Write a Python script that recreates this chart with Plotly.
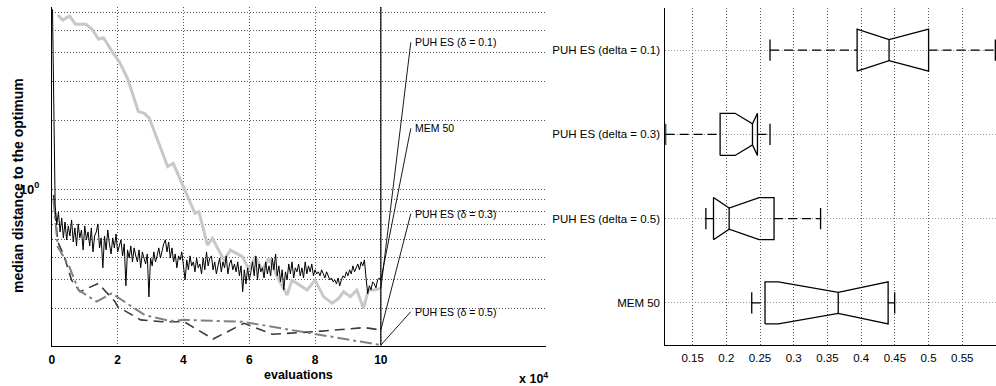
import numpy as np
import plotly.graph_objects as go

# ---------------- data: left panel (median distance to optimum vs evaluations, x 1e4) -------------
series_names = ["PUH ES (δ = 0.1)", "MEM 50", "PUH ES (δ = 0.3)", "PUH ES (δ = 0.5)"]

puh01_x = [0.18, 0.33, 0.54, 0.72, 1.04, 1.22, 1.42, 1.57, 1.85, 2.05, 2.30, 2.63, 2.81, 2.96,
           3.52, 3.69, 4.02, 4.35, 4.47, 4.73, 4.88, 5.23, 5.43, 5.79, 5.99, 6.19, 6.39, 6.60,
           6.90, 7.15, 7.30, 7.60, 7.76, 8.00, 8.26, 8.52, 8.72, 8.87, 9.07, 9.27, 9.47, 9.62,
           9.80, 10.0]
puh01_y = [5.86, 5.57, 5.80, 5.33, 5.33, 5.07, 4.58, 4.65, 4.00, 3.65, 3.08, 2.20, 2.16, 2.06,
           1.26, 1.30, 1.01, 0.784, 0.797, 0.568, 0.608, 0.488, 0.540, 0.505, 0.444, 0.505, 0.441,
           0.497, 0.398, 0.342, 0.398, 0.372, 0.360, 0.398, 0.336, 0.315, 0.331, 0.354, 0.336,
           0.360, 0.299, 0.360, 0.360, 0.366]

mem_y = [6.2,
         0.853, 0.697, 0.794, 0.649, 0.748, 0.611, 0.718, 0.599, 0.690, 0.623,
         0.733, 0.586, 0.676, 0.563, 0.704, 0.611, 0.662, 0.541, 0.690, 0.599,
         0.649, 0.563, 0.676, 0.530, 0.623, 0.649, 0.704, 0.552, 0.611, 0.451,
         0.623, 0.541, 0.662, 0.575, 0.519, 0.611, 0.552, 0.636, 0.530, 0.563,
         0.599, 0.509, 0.575, 0.376, 0.541, 0.498, 0.563, 0.479, 0.552, 0.509,
         0.479, 0.541, 0.451, 0.530, 0.498, 0.469, 0.519, 0.336, 0.498, 0.460,
         0.530, 0.479, 0.509, 0.552, 0.498, 0.541, 0.575, 0.599, 0.530, 0.586,
         0.498, 0.552, 0.479, 0.519, 0.451, 0.509, 0.489, 0.530, 0.460, 0.399,
         0.489, 0.442, 0.509, 0.460, 0.479, 0.433, 0.498, 0.451, 0.469, 0.424,
         0.498, 0.442, 0.530, 0.460, 0.498, 0.509, 0.442, 0.479, 0.424, 0.460,
         0.498, 0.433, 0.479, 0.451, 0.509, 0.424, 0.469, 0.489, 0.442, 0.469,
         0.433, 0.479, 0.416, 0.460, 0.354, 0.442, 0.383, 0.451, 0.399, 0.433,
         0.479, 0.416, 0.509, 0.399, 0.469, 0.433, 0.451, 0.407, 0.479, 0.424,
         0.460, 0.416, 0.498, 0.442, 0.519, 0.416, 0.460, 0.391, 0.442, 0.361,
         0.433, 0.399, 0.469, 0.424, 0.479, 0.407, 0.451, 0.433, 0.469, 0.416,
         0.451, 0.407, 0.479, 0.424, 0.460, 0.433, 0.469, 0.416, 0.442, 0.424,
         0.433, 0.416, 0.442, 0.424, 0.407, 0.433, 0.416, 0.399, 0.407, 0.391,
         0.399, 0.383, 0.407, 0.376, 0.399, 0.416, 0.407, 0.433, 0.416, 0.442,
         0.424, 0.460, 0.433, 0.451, 0.469, 0.442, 0.479, 0.460, 0.489, 0.407,
         0.347, 0.376, 0.361, 0.391, 0.383, 0.368, 0.399, 0.407,
         0.399]
mem_x = [0.02] + list(np.linspace(0.10, 10.0, len(mem_y) - 1))

puh03_x = [0.05, 0.18, 0.38, 0.60, 0.86, 1.41, 1.92, 2.00, 2.70, 3.36, 4.02, 4.90, 5.84, 6.70, 8.00, 9.50, 10.0]
puh03_y = [0.944, 0.588, 0.505, 0.398, 0.354, 0.385, 0.320, 0.304, 0.266, 0.261, 0.261, 0.219, 0.257,
           0.230, 0.236, 0.246, 0.240]

puh05_x = [0.05, 0.18, 0.53, 0.81, 1.36, 1.82, 2.83, 3.60, 4.02, 5.30, 5.79, 10.0]
puh05_y = [0.897, 0.559, 0.456, 0.360, 0.320, 0.348, 0.279, 0.263, 0.266, 0.263, 0.261, 0.206]

x_ticks = [0, 2, 4, 6, 8, 10]
y_major = [1]
y_minor = [0.3, 0.4, 0.5, 0.6, 0.7, 0.8, 0.9, 2, 3, 4, 5, 6]

# ---------------- data: right panel (notched box plots) ----------------
box_labels = ["PUH ES (delta = 0.1)", "PUH ES (delta = 0.3)", "PUH ES (delta = 0.5)", "MEM 50"]
wlo = [0.2648, 0.1100, 0.1697, 0.2377]
q1 = [0.3940, 0.1908, 0.1810, 0.2574]
nlo = [0.3940, 0.2130, 0.1810, 0.2772]
med = [0.4414, 0.2388, 0.2042, 0.3660]
nhi = [0.5000, 0.2462, 0.2486, 0.4400]
q3 = [0.5000, 0.2462, 0.2708, 0.4400]
whi = [0.5990, 0.2648, 0.3398, 0.4497]
box_ticks = [0.15, 0.2, 0.25, 0.3, 0.35, 0.4, 0.45, 0.5, 0.55]

# ---------------- figure ----------------
W, H = 996, 386
FONT = "Liberation Sans"

fig = go.Figure()

styles = {
    "PUH ES (δ = 0.1)": dict(color="#c8c8c8", width=3),
    "MEM 50": dict(color="black", width=1),
    "PUH ES (δ = 0.3)": dict(color="#3a3a3a", width=1.6, dash="10px,6px"),
    "PUH ES (δ = 0.5)": dict(color="#808080", width=2, dash="12px,4px,3px,4px"),
}
data_map = {
    "PUH ES (δ = 0.1)": (puh01_x, puh01_y),
    "MEM 50": (mem_x, mem_y),
    "PUH ES (δ = 0.3)": (puh03_x, puh03_y),
    "PUH ES (δ = 0.5)": (puh05_x, puh05_y),
}
for name in ["PUH ES (δ = 0.1)", "PUH ES (δ = 0.3)", "PUH ES (δ = 0.5)", "MEM 50"]:
    xs, ys = data_map[name]
    fig.add_trace(go.Scatter(x=xs, y=ys, mode="lines", line=styles[name], name=name,
                             xaxis="x", yaxis="y", hoverinfo="skip"))

# label leader lines and texts
label_y = {"PUH ES (δ = 0.1)": 4.44, "MEM 50": 1.857, "PUH ES (δ = 0.3)": 0.781, "PUH ES (δ = 0.5)": 0.289}
label_x = 10.91
for name in series_names:
    xs, ys = data_map[name]
    fig.add_trace(go.Scatter(x=[xs[-1], label_x], y=[ys[-1], label_y[name]], mode="lines",
                             line=dict(color="black", width=0.9), xaxis="x", yaxis="y",
                             hoverinfo="skip"))
    fig.add_annotation(x=label_x + 0.06, y=np.log10(label_y[name]), xref="x", yref="y",
                       text=name, showarrow=False, xanchor="left", yanchor="middle",
                       font=dict(family=FONT, size=10.5, color="black"))

# vertical solid line at the end of the run
fig.add_shape(type="line", xref="x", yref="y domain", x0=x_ticks[-1], x1=x_ticks[-1], y0=0, y1=1,
              line=dict(color="black", width=1.2))

# box plots
half_w, half_n, half_c = 0.25, 0.125, 0.125
for i, lab in enumerate(box_labels):
    yc = len(box_labels) - i
    bx = [q1[i], nlo[i], med[i], nhi[i], q3[i], q3[i], nhi[i], med[i], nlo[i], q1[i], q1[i]]
    by = [yc - half_w, yc - half_w, yc - half_n, yc - half_w, yc - half_w,
          yc + half_w, yc + half_w, yc + half_n, yc + half_w, yc + half_w, yc - half_w]
    fig.add_trace(go.Scatter(x=bx, y=by, mode="lines", line=dict(color="black", width=1.3),
                             xaxis="x2", yaxis="y2", hoverinfo="skip"))
    fig.add_trace(go.Scatter(x=[med[i], med[i]], y=[yc - half_n, yc + half_n], mode="lines",
                             line=dict(color="black", width=1.3), xaxis="x2", yaxis="y2",
                             hoverinfo="skip"))
    for a, b in [(wlo[i], q1[i]), (q3[i], whi[i])]:
        fig.add_trace(go.Scatter(x=[a, b], y=[yc, yc], mode="lines",
                                 line=dict(color="black", width=1.3, dash="9px,5px"),
                                 xaxis="x2", yaxis="y2", hoverinfo="skip"))
    for c in [wlo[i], whi[i]]:
        fig.add_trace(go.Scatter(x=[c, c], y=[yc - half_c, yc + half_c], mode="lines",
                                 line=dict(color="black", width=1.3), xaxis="x2", yaxis="y2",
                                 hoverinfo="skip"))

def px(v):
    return v / W

def py(v):
    return 1 - v / H

grid = dict(showgrid=True, gridcolor="#555", griddash="1px,2px", gridwidth=1)

fig.update_layout(
    width=W, height=H, margin=dict(l=0, r=0, t=0, b=0),
    paper_bgcolor="white", plot_bgcolor="white", showlegend=False,
    font=dict(family=FONT, color="black"),
    xaxis=dict(domain=[px(49), px(545)], range=[0, 15.03], tickmode="array", tickvals=x_ticks,
               ticktext=[str(t) for t in x_ticks], tickfont=dict(family=FONT, size=12, weight="bold"),
               ticklabelstandoff=3, **grid,
               zeroline=False, showline=True, linecolor="black", linewidth=1, ticks=""),
    yaxis=dict(domain=[py(345.7), py(7)], type="log", range=[np.log10(0.2047), np.log10(6.355)],
               tickmode="array", tickvals=y_major,
               ticktext=["10<sup>0</sup>" for v in y_major],
               tickfont=dict(family=FONT, size=13, weight="bold"), ticklabelstandoff=9,
               minor=dict(tickmode="array", tickvals=y_minor, showgrid=True, gridcolor="#555",
                          griddash="1px,2px", gridwidth=1, ticks=""),
               **grid,
               zeroline=False, showline=True, linecolor="black", linewidth=1, ticks=""),
    xaxis2=dict(domain=[px(664.3), 1.0], range=[0.1095, 0.6], tickmode="array", tickvals=box_ticks,
                ticktext=[f"{t:g}" for t in box_ticks], tickfont=dict(family=FONT, size=11.5),
                ticklabelstandoff=2, **grid,
                zeroline=False, showline=True, linecolor="black", linewidth=1, ticks="",
                anchor="y2"),
    yaxis2=dict(domain=[py(345), py(8)], range=[0.5, 4.5], tickmode="array",
                tickvals=[len(box_labels) - i for i in range(len(box_labels))], ticktext=box_labels,
                tickfont=dict(family=FONT, size=11.5), ticklabelstandoff=2,
                showgrid=True, gridcolor="#999", griddash="1px,2px", gridwidth=1,
                zeroline=False, showline=True, linecolor="black", linewidth=1, ticks="",
                anchor="x2"),
)

fig.add_annotation(x=px(296), y=py(375), xref="paper", yref="paper", text="<b>evaluations</b>",
                   showarrow=False, xanchor="center", yanchor="middle",
                   font=dict(family=FONT, size=12.5))
fig.add_annotation(x=px(516), y=py(378), xref="paper", yref="paper", text="<b>x 10<sup>4</sup></b>",
                   showarrow=False, xanchor="left", yanchor="middle", font=dict(family=FONT, size=12.5))
fig.add_annotation(x=px(15), y=py(185), xref="paper", yref="paper",
                   text="<b>median distance to the optimum</b>", textangle=-90,
                   showarrow=False, xanchor="center", yanchor="middle",
                   font=dict(family=FONT, size=14))

fig.write_html("out.html")
